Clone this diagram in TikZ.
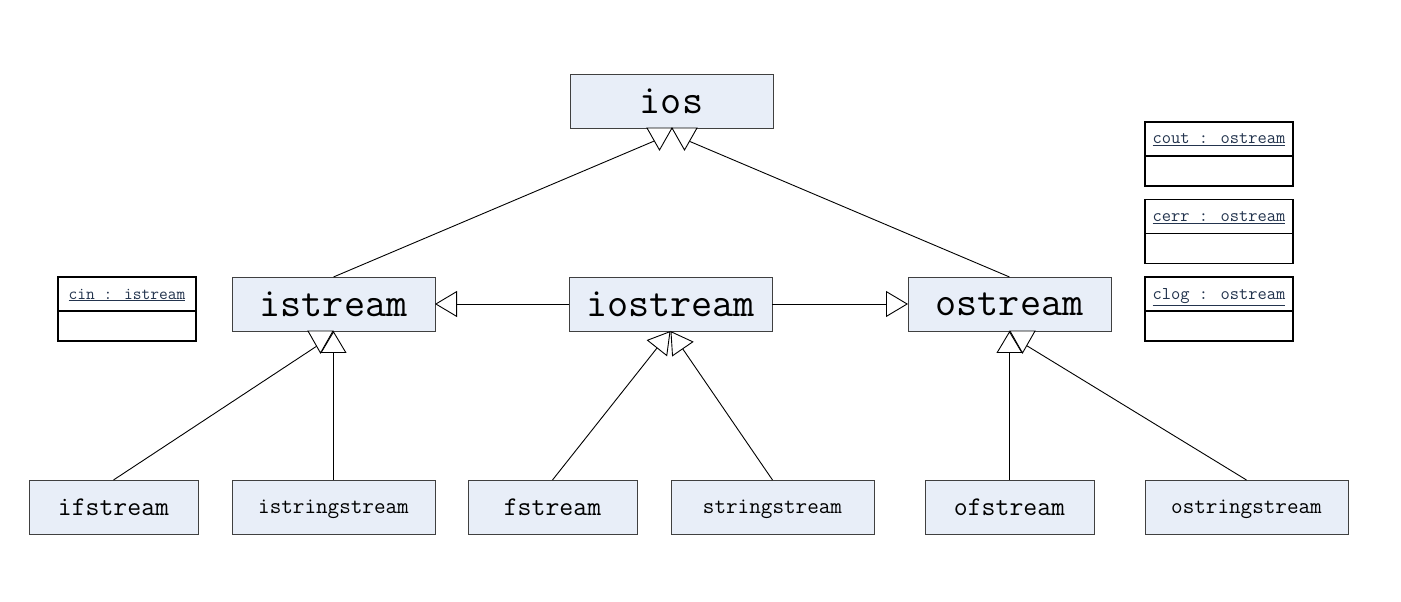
\documentclass[tikz,border=0pt]{standalone}
\usepackage{fontspec}
\usepackage{tikz}
\usetikzlibrary{arrows.meta,positioning}
\definecolor{clsfill}{RGB}{232,238,248}
\definecolor{clsedge}{RGB}{64,64,64}
\definecolor{objtext}{RGB}{35,52,78}

\tikzset{
  cls/.style={draw=clsedge, line width=0.9pt, fill=clsfill, inner sep=0pt, outer sep=0pt,
    minimum height=54, text depth=0pt, font=\ttfamily},
  bigcls/.style={cls, minimum width=203, font=\fontsize{41}{41}\ttfamily},
  leafcls/.style={cls, minimum width=169, font=\fontsize{27}{27}\ttfamily},
  longcls/.style={cls, minimum width=203, font=\fontsize{22.5}{22.5}\ttfamily},
  objname/.style={draw, line width=1.8pt, fill=white, inner sep=0pt, outer sep=0pt,
    minimum height=34, text depth=0pt, text=objtext},
  objbody/.style={draw, line width=1.8pt, fill=white, inner sep=0pt, outer sep=0pt,
    minimum height=30},
  inherit/.style={draw, line width=0.9pt, -{Triangle[open, fill=white, length=22pt, width=26pt]}},
  flip/.pic={\draw[line width=0.9pt, fill=white] (-12.5,0) -- (12.5,0) -- (0,-22) -- cycle;}
}

\begin{document}
\begin{tikzpicture}[x=1pt, y=1pt]
\useasboundingbox (0,0) rectangle (1401,602);

% Class hierarchy
\node[bigcls] (ios) at (671.5,501) {ios};
\node[bigcls] (istream) at (333.5,298) {istream};
\node[bigcls] (iostream) at (670.5,298) {iostream};
\node[bigcls] (ostream) at (1009.5,298) {ostream};

\node[leafcls] (ifstream) at (113.5,95) {ifstream};
\node[longcls] (istringstream) at (333.5,95) {istringstream};
\node[leafcls] (fstream) at (552.5,95) {fstream};
\node[longcls] (stringstream) at (772.5,95) {stringstream};
\node[leafcls] (ofstream) at (1009.5,95) {ofstream};
\node[longcls] (ostringstream) at (1246.5,95) {ostringstream};

% Stream objects
\node[objname, minimum width=138, font=\fontsize{17}{17}\ttfamily] (cin) at (127,308)
  {\underline{cin : istream}};
\node[objbody, minimum width=138, below=0pt of cin] (cinbody) {};
\foreach \obj/\y in {cout/463, cerr/385.5, clog/308} {
  \node[objname, minimum width=148, font=\fontsize{18}{18}\ttfamily] (\obj) at (1219,\y)
    {\underline{\obj\ : ostream}};
  \node[objbody, minimum width=148, below=0pt of \obj] (\obj body) {};
}

% Free ends of the connectors with flipped heads
\coordinate (iosL) at (659,463);
\coordinate (iosR) at (684,463);
\coordinate (istreamL) at (320,258);
\coordinate (ostreamR) at (1024,258);

% Generalisations
\draw[line width=0.9pt] (istream.north) -- (iosL);
\draw[line width=0.9pt] (ostream.north) -- (iosR);
\draw[line width=0.9pt] (ifstream.north) -- (istreamL);
\draw[line width=0.9pt] (ostringstream.north) -- (ostreamR);
\draw[inherit] (iostream.west) -- (istream.east);
\draw[inherit] (iostream.east) -- (ostream.west);
\draw[inherit] (istringstream.north) -- (istream.south);
\draw[inherit] (fstream.north) -- (iostream.south);
\draw[inherit] (stringstream.north) -- (iostream.south);
\draw[inherit] (ofstream.north) -- (ostream.south);

% Heads that point away from the parent
\pic at (659.5,474) {flip};
\pic at (684.5,474) {flip};
\pic at (320.5,271) {flip};
\pic at (1022.5,271) {flip};

\end{tikzpicture}
\end{document}
